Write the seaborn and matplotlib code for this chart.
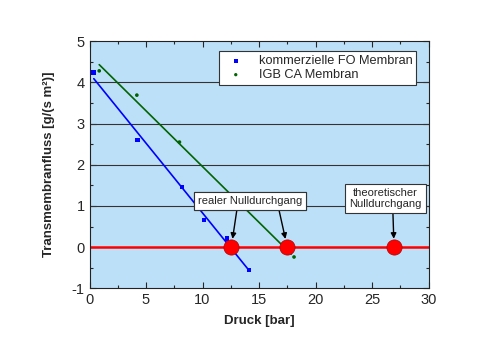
import matplotlib
matplotlib.use("Agg")
import matplotlib.pyplot as plt
import seaborn as sns
import pandas as pd

# ---- data ----
blue_x = [0.35, 4.25, 8.18, 10.15, 12.16, 14.1]
blue_y = [4.24, 2.61, 1.45, 0.65, 0.21, -0.56]
green_x = [0.86, 4.19, 7.96, 18.1]
green_y = [4.28, 3.69, 2.55, -0.24]
blue_fit_x = [0.38, 14.1]
blue_fit_y = [4.09, -0.56]
green_fit_x = [0.86, 17.85]
green_fit_y = [4.43, -0.17]
zero_x = [12.55, 17.5, 26.95]
zero_y = [0, 0, 0]
series_names = ["kommerzielle FO Membran", "IGB CA Membran"]

sns.set_style("ticks")
plt.rcParams['font.family'] = ['Liberation Sans', 'DejaVu Sans']
plt.rcParams['axes.unicode_minus'] = False

fig = plt.figure(figsize=(5.0, 3.49), dpi=100)
ax = fig.add_axes([0.179, 0.174, 0.678, 0.708])
ax.set_facecolor("#bde0f9")

df_b = pd.DataFrame({"x": blue_x, "y": blue_y})
df_g = pd.DataFrame({"x": green_x, "y": green_y})

ax.axhline(0, color="red", lw=1.8, zorder=2)
for yy in [1, 2, 3, 4]:
    ax.axhline(yy, color="#333333", lw=0.8, zorder=1)

sns.lineplot(x=blue_fit_x, y=blue_fit_y, color="#0000ff", lw=1.2, ax=ax, zorder=3)
sns.lineplot(x=green_fit_x, y=green_fit_y, color="#006400", lw=1.2, ax=ax, zorder=3)
sns.scatterplot(data=df_b, x="x", y="y", color="#0000ff", marker="s", s=9,
                edgecolor="none", ax=ax, zorder=4, label=series_names[0])
sns.scatterplot(data=df_g, x="x", y="y", color="#006400", marker="o", s=7,
                edgecolor="none", ax=ax, zorder=4, label=series_names[1])
sns.scatterplot(x=zero_x, y=zero_y, color="#ff0000", s=120, edgecolor="#b00000",
                linewidth=0.5, ax=ax, zorder=6)

ax.set_xlim(0, 30)
ax.set_ylim(-1, 5)
ax.set_xticks([0, 5, 10, 15, 20, 25, 30])
ax.set_yticks([-1, 0, 1, 2, 3, 4, 5])
ax.set_xticks([2.5, 7.5, 12.5, 17.5, 22.5, 27.5], minor=True)
ax.set_yticks([-0.5, 0.5, 1.5, 2.5, 3.5, 4.5], minor=True)
ax.tick_params(which="both", direction="in", top=True, right=True, labelsize=10.5)
ax.tick_params(which="major", length=4, width=0.8)
ax.tick_params(which="minor", length=2.5, width=0.8)
for s in ax.spines.values():
    s.set_linewidth(0.8)
    s.set_color("#222222")

ax.set_xlabel("Druck [bar]", fontsize=9.5, fontweight="bold", labelpad=6)
ax.set_ylabel("Transmembranfluss [g/(s m²)]", fontsize=9.5, fontweight="bold", labelpad=12)

leg = ax.legend(loc="upper right", fontsize=9.2, frameon=True, fancybox=False,
                framealpha=1, edgecolor="#333333", borderpad=0.3,
                handletextpad=0.8, labelspacing=0.15, markerscale=0.9,
                bbox_to_anchor=(0.983, 0.985))
leg.get_frame().set_linewidth(0.8)

bbox = dict(boxstyle="square,pad=0.35", fc="white", ec="#333333", lw=0.8)
arrow = dict(arrowstyle="-|>", color="black", lw=1.0, mutation_scale=8, shrinkA=0, shrinkB=6)
ax.annotate("realer Nulldurchgang", xy=(zero_x[0], zero_y[0]), xytext=(14.2, 1.12),
            fontsize=8, ha="center", va="center", bbox=bbox, zorder=7,
            arrowprops=dict(arrow, relpos=(0.38, 0)))
ax.annotate("realer Nulldurchgang", xy=(zero_x[1], zero_y[1]), xytext=(14.2, 1.12),
            fontsize=8, ha="center", va="center", bbox=bbox, zorder=7,
            arrowprops=dict(arrow, relpos=(0.77, 0)))
ax.annotate("theoretischer\nNulldurchgang", xy=(zero_x[2], zero_y[2]), xytext=(26.2, 1.18),
            fontsize=8, ha="center", va="center", bbox=bbox, zorder=7,
            linespacing=1.1, arrowprops=dict(arrow, relpos=(0.6, 0)))

fig.savefig("out.png", dpi=100)
